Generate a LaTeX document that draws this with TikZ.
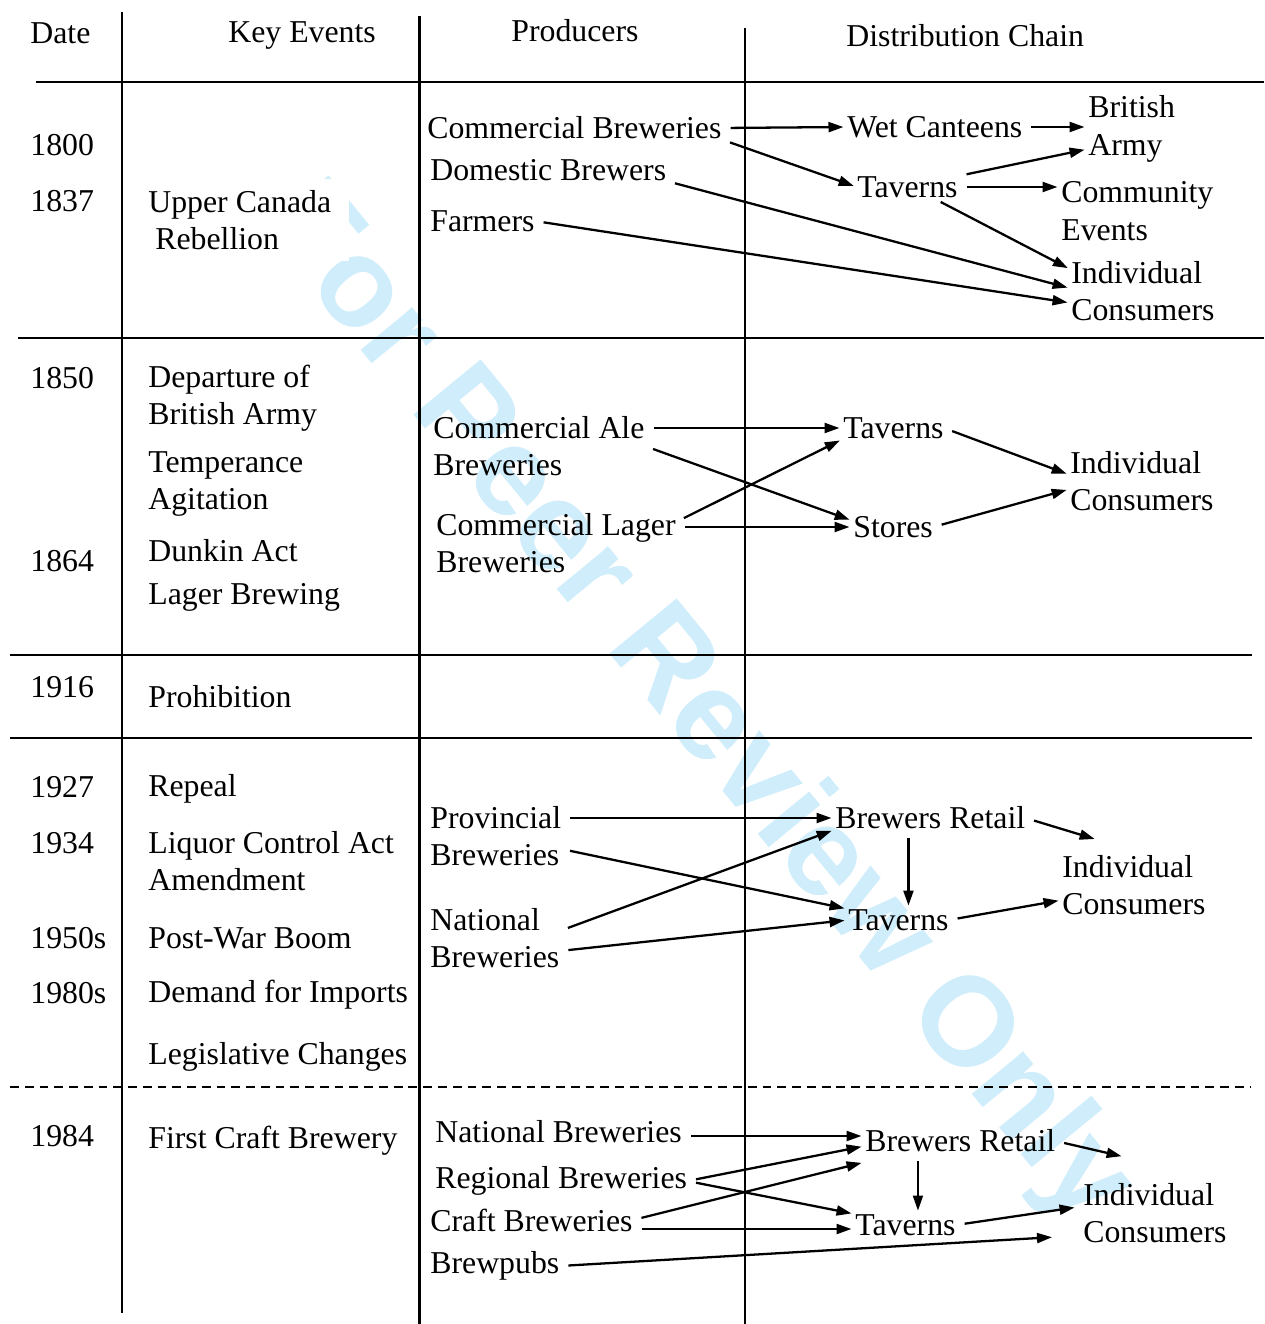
\documentclass[tikz,border=0pt]{standalone}
\usepackage{fontspec}
\setmainfont{Liberation Serif}
\newfontfamily\wmfont{Liberation Sans}
\usetikzlibrary{arrows.meta,calc,positioning}
\definecolor{Wmark}{HTML}{CFEDFB}

\begin{document}
\begin{tikzpicture}[x=0.02cm,y=-0.02cm,
    txt/.style={anchor=west,inner sep=0pt,align=left,font=\fontsize{18.1}{21.3}\selectfont},
    rule/.style={line width=1.5pt},
    arr/.style={-{Triangle[length=0.3cm,width=0.2cm]},line width=1.3pt,shorten <=5pt,shorten >=2pt}]
  \useasboundingbox (0,0) rectangle (1264,1324);
  \node[rotate=-50.6,text=Wmark,font=\wmfont\bfseries\fontsize{72}{80}\selectfont] (wm) at (695,706) {For Peer Review Only};

  \draw[line width=1pt] (122,12) -- (122,1313);
  \draw[line width=1.7pt] (419,16) -- (419,1324);
  \draw[line width=1.2pt] (745,28) -- (745,1324);
  \draw[rule] (36,82) -- (1264,82);
  \draw[rule] (18,338) -- (1264,338);
  \draw[rule] (10,655) -- (1252,655);
  \draw[rule] (10,738) -- (1252,738);
  \draw[line width=1.3pt,dash pattern=on 5pt off 3.4pt] (10,1087) -- (1250,1087);

  \node[txt] (hdate) at (30,33) {Date};
  \node[txt] (hevent) at (228,36) {Key Events};
  \node[txt] (hprod) at (511,31) {Producers};
  \node[txt] (hdist) at (846,36) {Distribution Chain};

  \node[txt] (d1800) at (30,145) {1800};
  \node[txt] (d1837) at (30,201) {1837};
  \node[txt] (d1850) at (30,378) {1850};
  \node[txt] (d1864) at (30,561) {1864};
  \node[txt] (d1916) at (30,687) {1916};
  \node[txt] (d1927) at (30,787) {1927};
  \node[txt] (d1934) at (30,843) {1934};
  \node[txt] (d1950) at (30,938) {1950s};
  \node[txt] (d1980) at (30,993) {1980s};
  \node[txt] (d1984) at (30,1136) {1984};

  \node[txt,fill=white,inner xsep=0.36cm,inner ysep=0.22cm] (ev1) at (130,220) {Upper Canada\\\hspace*{0.14cm}Rebellion};
  \node[txt] (cb) at (427,128) {Commercial Breweries};
  \node[txt] (db) at (430,170) {Domestic Brewers};
  \node[txt] (fa) at (430,221) {Farmers};
  \node[txt] (wc) at (847,127) {Wet Canteens};
  \node[txt] (ba) at (1088,129) {British\\Army};
  \node[txt] (tv1) at (857,187) {Taverns};
  \node[txt] (ce) at (1061,211) {Community\\Events};
  \node[txt] (ic1) at (1071,291) {Individual\\Consumers};
  \draw[arr] (cb.east) -- (wc.west);
  \draw[arr] (cb.south east) -- (tv1.west);
  \draw[arr] (wc.east) -- (wc.east -| ba.west);
  \draw[arr] (tv1.north east) -- ([yshift=-0.4cm]ba.west);
  \draw[arr] (tv1.east) -- (tv1.east -| ce.west);
  \draw[arr] ([xshift=-0.5cm]tv1.south east) -- ([yshift=-0.18cm]ic1.north west);
  \draw[arr] (db.south east) -- ([yshift=0.05cm]ic1.west);
  \draw[arr] (fa.east) -- ([yshift=-0.24cm]ic1.west);

  \node[txt] (ev2a) at (148,398) {Departure of\\British Army};
  \node[txt] (ev2b) at (148,484) {Temperance\\Agitation};
  \node[txt] (ev2c) at (148,551) {Dunkin Act};
  \node[txt] (ev2d) at (148,597) {Lager Brewing};
  \node[txt] (ca) at (433,446) {Commercial Ale\\Breweries};
  \node[txt] (cl) at (436,543) {Commercial Lager\\Breweries};
  \node[txt] (tv2) at (843,428) {Taverns};
  \node[txt] (st) at (853,527) {Stores};
  \node[txt] (ic2) at (1070,481) {Individual\\Consumers};
  \draw[arr] (ca.east |- tv2.west) -- (tv2.west);
  \draw[arr] (ca.east) -- ([yshift=0.12cm]st.west);
  \draw[arr] ([yshift=0.42cm]cl.east) -- (tv2.south west);
  \draw[arr] (cl.east |- st.west) -- (st.west);
  \draw[arr] (tv2.east) -- ([yshift=0.12cm]ic2.west);
  \draw[arr] (st.east) -- ([yshift=-0.16cm]ic2.west);

  \node[txt] (ev3) at (148,697) {Prohibition};

  \node[txt] (ev4a) at (148,789) {Repeal};
  \node[txt] (ev4b) at (148,861) {Liquor Control Act\\Amendment};
  \node[txt] (ev4c) at (148,938) {Post-War Boom};
  \node[txt] (ev4d) at (148,995) {Demand for Imports};
  \node[txt] (ev4e) at (148,1057) {Legislative Changes};
  \node[txt] (pb) at (430,836) {Provincial\\Breweries};
  \node[txt] (nb) at (430,938) {National\\Breweries};
  \node[txt] (br4) at (835,818) {Brewers Retail};
  \node[txt] (tv4) at (848,920) {Taverns};
  \node[txt] (ic4) at (1062,885) {Individual\\Consumers};
  \coordinate (br4x) at (1098,840);
  \draw[arr] (pb.east |- br4.west) -- (br4.west);
  \draw[arr] ([yshift=-0.26cm]pb.east) -- (tv4.north west);
  \draw[arr] ([yshift=0.14cm]nb.east) -- (br4.south west);
  \draw[arr] ([yshift=-0.26cm]nb.east) -- (tv4.west);
  \draw[arr] ([xshift=0.2cm]tv4.north |- br4.south) -- ([xshift=0.2cm]tv4.north);
  \draw[arr] (br4.east) -- (br4x);
  \draw[arr] (tv4.east) -- ([yshift=-0.3cm]ic4.west);

  \node[txt] (ev5) at (148,1141) {First Craft Brewery};
  \node[txt] (nb5) at (435,1132) {National Breweries};
  \node[txt] (rb) at (435,1181) {Regional Breweries};
  \node[txt] (cr) at (430,1220) {Craft Breweries};
  \node[txt] (bp) at (430,1266) {Brewpubs};
  \node[txt] (br5) at (865,1141) {Brewers Retail};
  \node[txt] (tv5) at (855,1225) {Taverns};
  \node[txt] (ic5) at (1083,1213) {Individual\\Consumers};
  \coordinate (br5x) at (1125,1157);
  \draw[arr] ([yshift=-0.08cm]nb5.east) -- ([yshift=-0.08cm]nb5.east -| br5.west);
  \draw[arr] (rb.east) -- ([yshift=-0.1cm]br5.west);
  \draw[arr] (rb.east) -- (tv5.north west);
  \draw[arr] (cr.east) -- ([yshift=-0.42cm]br5.west);
  \draw[arr] ([yshift=-0.18cm]cr.east) -- ([yshift=-0.18cm]cr.east -| tv5.west);
  \draw[arr,line width=1pt] ([xshift=0.25cm]tv5.north |- br5.south) -- ([xshift=0.25cm]tv5.north);
  \draw[arr] (br5.east) -- (br5x);
  \draw[arr] (tv5.east) -- ([shift={(-0.1cm,0.12cm)}]ic5.west);
  \draw[arr] (bp.east) -- ([shift={(-0.55cm,-0.48cm)}]ic5.west);
\end{tikzpicture}
\end{document}
